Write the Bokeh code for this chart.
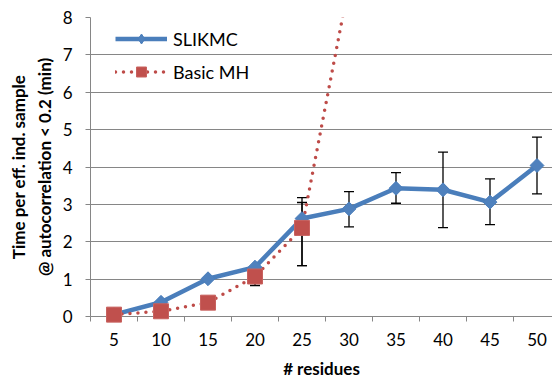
import math
from bokeh.plotting import figure
from bokeh.models import (ColumnDataSource, FixedTicker, Whisker, TeeHead,
                          Legend, LegendItem, Range1d)
from bokeh.embed import file_html
from bokeh.resources import INLINE

# ---- data ----
residues = [5, 10, 15, 20, 25, 30, 35, 40, 45, 50]
slikmc = [0.05, 0.38, 1.01, 1.32, 2.62, 2.88, 3.43, 3.39, 3.06, 4.04]
slikmc_err_x = [25, 30, 35, 40, 45, 50]
slikmc_lower = [1.36, 2.40, 3.03, 2.38, 2.46, 3.28]
slikmc_upper = [3.18, 3.34, 3.85, 4.40, 3.68, 4.80]

basic_x = [5, 10, 15, 20, 25, 30]
basic_mh = [0.05, 0.14, 0.37, 1.07, 2.37, 8.9]
basic_err_x = [20, 25]
basic_lower = [0.83, 1.36]
basic_upper = [1.31, 3.05]

y_ticks = [0, 1, 2, 3, 4, 5, 6, 7, 8]
cat_bounds = [2.5 + 5 * k for k in range(11)]

FONT = "Lato"
GRID = "#868686"
BLUE_LINE = "#4A7EBB"
BLUE_FILL = "#4F81BD"
RED_LINE = "#BE4B48"
RED_FILL = "#C0504D"

p = figure(width=552, height=381,
           x_range=Range1d(2.5, 2.5 + 462 / 47 * 5),
           y_range=Range1d(0, 8),
           output_backend="svg", toolbar_location=None,
           min_border_left=90, min_border_right=0,
           min_border_top=17, min_border_bottom=64)
p.outline_line_color = None
p.background_fill_color = "white"

# axes
p.xaxis.ticker = FixedTicker(ticks=residues, minor_ticks=cat_bounds)
p.xaxis.major_tick_line_color = None
p.xaxis.minor_tick_line_color = GRID
p.xaxis.minor_tick_out = 5
p.xaxis.minor_tick_in = 0
p.xaxis.axis_line_color = GRID
p.xaxis.major_label_text_font = FONT
p.xaxis.major_label_text_font_size = "17px"
p.xaxis.major_label_text_color = "black"
p.xaxis.major_label_standoff = 10
p.xaxis.axis_label = "# residues"
p.xaxis.axis_label_text_font = FONT
p.xaxis.axis_label_text_font_size = "17px"
p.xaxis.axis_label_text_font_style = "bold"
p.xaxis.axis_label_text_color = "black"
p.xaxis.axis_label_standoff = 9

p.yaxis.ticker = FixedTicker(ticks=y_ticks)
p.yaxis.bounds = (0, 8)
p.yaxis.major_tick_line_color = GRID
p.yaxis.major_tick_out = 5
p.yaxis.major_tick_in = 0
p.yaxis.minor_tick_line_color = None
p.yaxis.axis_line_color = GRID
p.yaxis.major_label_text_font = FONT
p.yaxis.major_label_text_font_size = "17px"
p.yaxis.major_label_text_color = "black"
p.yaxis.major_label_standoff = 13
p.yaxis.axis_label = "Time per eff. ind. sample\n@ autocorrelation < 0.2 (min)"
p.yaxis.axis_label_text_font = FONT
p.yaxis.axis_label_text_font_size = "17px"
p.yaxis.axis_label_text_font_style = "bold"
p.yaxis.axis_label_text_color = "black"
p.yaxis.axis_label_standoff = 5

p.xgrid.visible = False
p.ygrid.grid_line_color = GRID
p.ygrid.grid_line_width = 1

# error bars
src_se = ColumnDataSource(dict(x=slikmc_err_x, lower=slikmc_lower, upper=slikmc_upper))
src_be = ColumnDataSource(dict(x=basic_err_x, lower=basic_lower, upper=basic_upper))
for src in (src_se, src_be):
    w = Whisker(base="x", lower="lower", upper="upper", source=src,
                line_color="black", line_width=1.3,
                upper_head=TeeHead(size=10, line_color="black", line_width=1.3),
                lower_head=TeeHead(size=10, line_color="black", line_width=1.3))
    p.add_layout(w)

# series
l1 = p.line(residues, slikmc, line_color=BLUE_LINE, line_width=4.5, line_join="round")
l2 = p.line(basic_x, basic_mh, line_color=RED_LINE, line_width=3.5,
            line_dash="0 8", line_cap="round")
d1 = p.scatter(residues, slikmc, marker="square", angle=math.pi / 4, size=9.8,
               fill_color=BLUE_FILL, line_color=BLUE_LINE, level="overlay")
s2 = p.scatter(basic_x, basic_mh, marker="square", size=15,
               fill_color=RED_FILL, line_color="#C8625F", level="overlay")
# legend-only diamond glyph (no visible data point)
leg_d = p.scatter([float("nan")], [float("nan")], marker="diamond",
                  size=10, fill_color=BLUE_FILL, line_color=BLUE_LINE)

legend = Legend(items=[LegendItem(label="SLIKMC", renderers=[l1, leg_d]),
                       LegendItem(label="Basic MH", renderers=[l2, s2])],
                location=(25, 232), padding=0, margin=0, spacing=8,
                glyph_width=52, glyph_height=25, label_height=25,
                label_standoff=6, label_text_font=FONT,
                label_text_font_size="18px", label_text_color="black",
                background_fill_alpha=0, border_line_color=None)
p.add_layout(legend)

open("out.html", "w").write(file_html(p, INLINE))
